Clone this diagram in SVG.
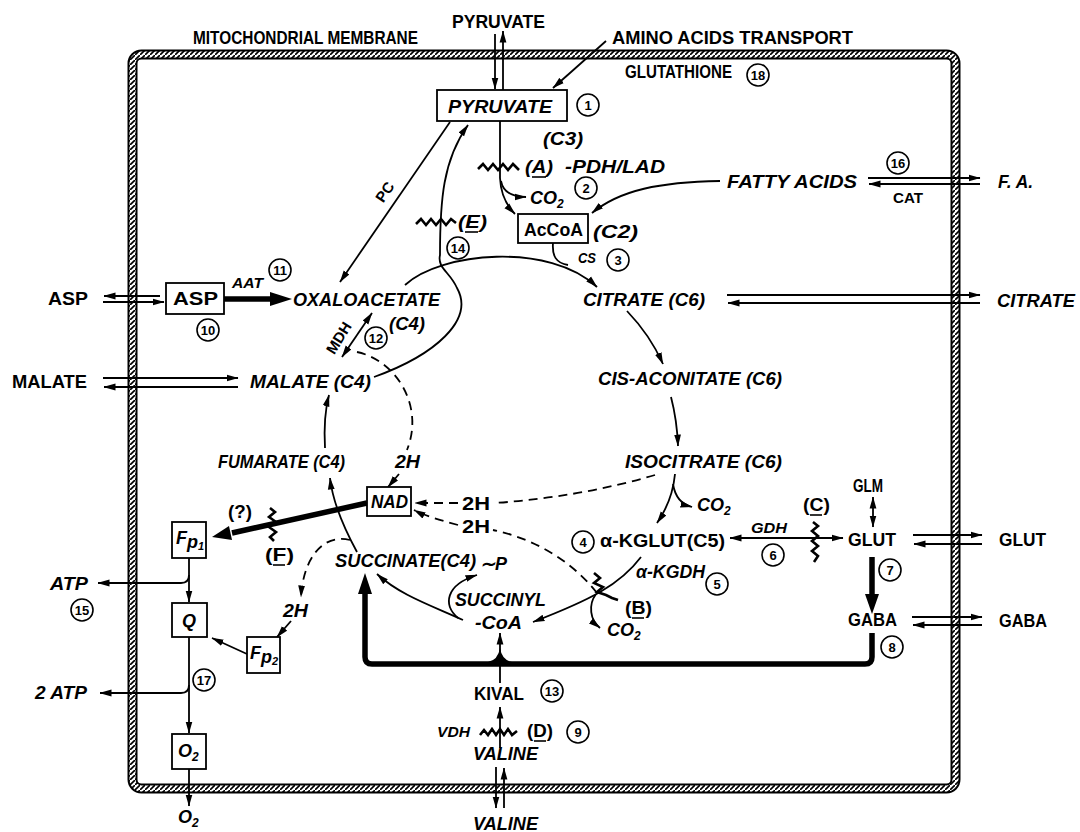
<svg xmlns="http://www.w3.org/2000/svg" width="1080" height="832" viewBox="0 0 1080 832">
<defs>
<style>
text{font-family:"Liberation Sans",Arial,sans-serif;font-size:18px;font-weight:bold;fill:#000}
.i{font-style:italic}
.sm{font-size:15px}
.ln{fill:none;stroke:#000;stroke-width:1.8}
.th{fill:none;stroke:#000;stroke-width:5.5}
.ds{stroke-dasharray:9 6}
.zz{fill:none;stroke:#000;stroke-width:2.6;stroke-linejoin:miter}
.box{fill:#fff;stroke:#000;stroke-width:1.8}
.num circle{fill:#fff;stroke:#000;stroke-width:1.6}
.num text{font-size:13px;text-anchor:middle}
.ul{stroke:#000;stroke-width:1.6}
</style>
<pattern id="hatch" patternUnits="userSpaceOnUse" width="5" height="5">
<rect width="5" height="5" fill="#fff"/>
<path d="M-1,6 L6,-1" stroke="#000" stroke-width="1.6"/>
</pattern>
<marker id="ah" viewBox="0 0 12 8" refX="11.5" refY="4" markerWidth="12" markerHeight="8" markerUnits="userSpaceOnUse" orient="auto-start-reverse"><path d="M0,0.6 L12,4 L0,7.4 z"/></marker>
</defs>
<rect width="1080" height="832" fill="#fff"/>

<g id="membrane">
<rect x="132.5" y="54.5" width="823" height="734" rx="9" fill="none" stroke="#000" stroke-width="10"/>
<rect x="132.5" y="54.5" width="823" height="734" rx="9" fill="none" stroke="url(#hatch)" stroke-width="6"/>
</g>

<g id="connectors">
<path class="ln" d="M495,34 L495,89" marker-end="url(#ah)"/>
<path class="ln" d="M503,90 L503,31" marker-end="url(#ah)"/>
<path class="ln" d="M606,41 L553,88" marker-end="url(#ah)"/>
<path class="ln" d="M500,121 L500,178 Q501,200 515,214" marker-end="url(#ah)"/>
<path class="ln" d="M501,181 Q504,197 526,197" marker-end="url(#ah)"/>
<path class="zz" d="M478,169 L483,164 L488,170 L493,164 L498,170 L503,164 L508,170 L513,164 L519,170"/>
<path class="ln" d="M720,181 C660,182 620,190 592,213" marker-end="url(#ah)"/>
<path class="ln" d="M868,178 L980,178" marker-end="url(#ah)"/>
<path class="ln" d="M980,184 L869,184" marker-end="url(#ah)"/>
<path class="ln" d="M553,243 C552,256 556,263 568,265"/>
<path class="ln" d="M405,285 C440,252 550,242 597,287" marker-end="url(#ah)"/>
<path class="ln" d="M727,295 L980,295" marker-end="url(#ah)"/>
<path class="ln" d="M980,303 L728,303" marker-end="url(#ah)"/>
<path class="ln" d="M160,296 L104,296" marker-end="url(#ah)"/>
<path class="ln" d="M103,302 L164,302" marker-end="url(#ah)"/>
<path class="th" d="M224,299 L272,299"/>
<path d="M270,292 L292,299 L270,306 z"/>
<path class="ln" d="M450,122 L340,282" marker-end="url(#ah)"/>
<path class="ln" d="M103,378 L238,378" marker-end="url(#ah)"/>
<path class="ln" d="M238,387 L104,387" marker-end="url(#ah)"/>
<path class="ln" d="M342,357 L372,313" marker-start="url(#ah)" marker-end="url(#ah)"/>
<path class="ln" d="M374,377 C435,355 475,320 457,288 C450,272 437,268 440,255 C440,200 443,160 468,125" marker-end="url(#ah)"/>
<path class="zz" d="M416,224 L421,219 L426,225 L431,219 L436,225 L441,219 L446,225 L451,219 L456,223"/>
<path class="ln" d="M627,311 Q650,335 663,364" marker-end="url(#ah)"/>
<path class="ln" d="M671,397 Q677,420 678,446" marker-end="url(#ah)"/>
<path class="ln" d="M675,474 C673,495 666,510 657,523" marker-end="url(#ah)"/>
<path class="ln" d="M673,484 Q676,503 692,507" marker-end="url(#ah)"/>
<path class="ln ds" d="M655,475 Q580,497 495,503"/>
<path class="ln ds" d="M458,503 L415,503" marker-end="url(#ah)"/>
<path class="ln ds" d="M597,593 C575,565 540,540 493,530"/>
<path class="ln ds" d="M458,525 C440,520 425,516 414,510" marker-end="url(#ah)"/>
<path class="ln ds" d="M357,352 C395,360 425,405 407,450"/>
<path class="ln" d="M399,474 L388,487" marker-end="url(#ah)"/>
<path class="th" d="M367,503 L232,533"/>
<path d="M229,526 L212,537 L232,540 z"/>
<path class="zz" d="M270,508 L275,512 L269,517 L276,522 L269,527 L276,532 L270,537 L274,541"/>
<path class="ln" d="M357,552 C345,530 333,505 330,478" marker-end="url(#ah)"/>
<path class="ln" d="M325,448 C324,430 325,410 329,395" marker-end="url(#ah)"/>
<path class="ln ds" d="M350,540 C322,533 303,560 301,597" marker-end="url(#ah)"/>
<path class="ln" d="M291,621 L277,637" marker-end="url(#ah)"/>
<path class="ln" d="M247,654 L212,638" marker-end="url(#ah)"/>
<path class="ln" d="M189,558 L189,602" marker-end="url(#ah)"/>
<path class="ln" d="M189,575 Q189,583 181,583 L98,583" marker-end="url(#ah)"/>
<path class="ln" d="M189,637 L189,733" marker-end="url(#ah)"/>
<path class="ln" d="M189,685 Q189,693 181,693 L100,693" marker-end="url(#ah)"/>
<path class="ln" d="M189,769 L189,806" marker-end="url(#ah)"/>
<path class="ln" d="M463,620 C430,605 400,595 377,574" marker-end="url(#ah)"/>
<path class="ln" d="M458,618 C443,605 445,585 477,575" marker-end="url(#ah)"/>
<path class="ln" d="M641,557 C620,585 590,600 533,622" marker-end="url(#ah)"/>
<path class="zz" d="M594,573 L600,578 L594,583 L603,587 L597,592 L606,595 L612,598 L618,600"/>
<path class="ln" d="M596,594 C588,605 590,620 600,628" marker-end="url(#ah)"/>
<path class="ln" d="M730,538 L843,538" marker-start="url(#ah)" marker-end="url(#ah)"/>
<path class="zz" d="M813,522 L818,526 L812,531 L818,536 L812,541 L818,546 L812,551 L818,556 L814,562"/>
<path class="ln" d="M873,497 L873,527" marker-start="url(#ah)" marker-end="url(#ah)"/>
<path class="ln" d="M913,535 L982,535" marker-end="url(#ah)"/>
<path class="ln" d="M982,544 L914,544" marker-end="url(#ah)"/>
<path class="th" d="M872,557 L872,596"/>
<path d="M865,594 L872,614 L879,594 z"/>
<path class="ln" d="M912,617 L982,617" marker-end="url(#ah)"/>
<path class="ln" d="M982,625 L913,625" marker-end="url(#ah)"/>
<path class="th" d="M872,633 L872,657 Q872,664 865,664 L372,664 Q365,664 365,657 L365,592"/>
<path d="M358,594 L365,573 L372,594 z"/>
<path class="ln" d="M500,683 L500,633" marker-end="url(#ah)"/>
<path d="M488,662 Q498,660 500,648 Q502,660 512,662 Z"/>
<path class="ln" d="M500,748 L500,707" marker-end="url(#ah)"/>
<path class="zz" d="M480,735 L484,730 L488,735 L492,729 L496,735 L500,729 L504,735 L508,729 L512,735 L517,731"/>
<path class="ln" d="M496,767 L496,808" marker-end="url(#ah)"/>
<path class="ln" d="M504,808 L504,768" marker-end="url(#ah)"/>
</g>

<g id="label-membrane"><text x="193" y="44" font-size="15" textLength="225" lengthAdjust="spacingAndGlyphs">MITOCHONDRIAL MEMBRANE</text></g>
<g id="pyruvate-out"><text x="452" y="28" textLength="93" lengthAdjust="spacingAndGlyphs">PYRUVATE</text></g>
<g id="amino-acids"><text x="612" y="44" textLength="241" lengthAdjust="spacingAndGlyphs">AMINO ACIDS TRANSPORT</text></g>
<g id="glutathione"><text x="625" y="78" font-size="15" textLength="107" lengthAdjust="spacingAndGlyphs">GLUTATHIONE</text></g>
<g id="n18" class="num"><circle cx="758" cy="75" r="11"/><text x="758" y="80">18</text></g>

<g id="pyruvate"><rect class="box" x="437" y="90" width="130" height="31"/><text class="i" x="448" y="113" textLength="104" lengthAdjust="spacingAndGlyphs">PYRUVATE</text></g>
<g id="n1" class="num"><circle cx="588" cy="105" r="11"/><text x="588" y="110">1</text></g>
<g id="c3"><text class="i" x="543" y="145" textLength="40" lengthAdjust="spacingAndGlyphs">(C3)</text></g>
<g id="lbl-A"><text class="i" x="525" y="173" textLength="28" lengthAdjust="spacingAndGlyphs">(A)</text><line class="ul" x1="532" y1="177" x2="546" y2="177"/></g>
<g id="pdh"><text class="i" x="565" y="173" textLength="100" lengthAdjust="spacingAndGlyphs">-PDH/LAD</text></g>
<g id="co2-a"><text class="i" x="530" y="204" font-size="16">CO<tspan font-size="12" dy="4">2</tspan></text></g>
<g id="n2" class="num"><circle cx="586" cy="188" r="11"/><text x="586" y="193">2</text></g>
<g id="accoa"><rect class="box" x="518" y="214" width="70" height="29"/><text x="524" y="236" textLength="59" lengthAdjust="spacingAndGlyphs">AcCoA</text></g>
<g id="c2"><text class="i" x="593" y="238" textLength="45" lengthAdjust="spacingAndGlyphs">(C2)</text></g>
<g id="fatty-acids"><text class="i" x="727" y="188" textLength="130" lengthAdjust="spacingAndGlyphs">FATTY ACIDS</text></g>
<g id="fa-out"><text class="i" x="998" y="188" textLength="35" lengthAdjust="spacingAndGlyphs">F. A.</text></g>
<g id="n16" class="num"><circle cx="898" cy="163" r="11"/><text x="898" y="168">16</text></g>
<g id="cat"><text class="sm" x="893" y="203" textLength="30" lengthAdjust="spacingAndGlyphs">CAT</text></g>
<g id="cs"><text class="i sm" x="578" y="263" textLength="18" lengthAdjust="spacingAndGlyphs">CS</text></g>
<g id="n3" class="num"><circle cx="618" cy="260" r="11"/><text x="618" y="265">3</text></g>
<g id="citrate"><text class="i" x="583" y="306" textLength="122" lengthAdjust="spacingAndGlyphs">CITRATE (C6)</text></g>
<g id="citrate-out"><text class="i" x="997" y="307" textLength="78" lengthAdjust="spacingAndGlyphs">CITRATE</text></g>

<g id="asp-out"><text x="48" y="305" textLength="40" lengthAdjust="spacingAndGlyphs">ASP</text></g>
<g id="asp"><rect class="box" x="166" y="283" width="58" height="31"/><text x="173" y="305" textLength="45" lengthAdjust="spacingAndGlyphs">ASP</text></g>
<g id="aat"><text class="i sm" x="232" y="288" textLength="31" lengthAdjust="spacingAndGlyphs">AAT</text></g>
<g id="n11" class="num"><circle cx="280" cy="270" r="11"/><text x="280" y="275">11</text></g>
<g id="n10" class="num"><circle cx="208" cy="330" r="11"/><text x="208" y="335">10</text></g>
<g id="oxaloacetate"><text class="i" x="293" y="306" textLength="147" lengthAdjust="spacingAndGlyphs">OXALOACETATE</text></g>
<g id="c4-oaa"><text class="i" x="389" y="330" textLength="36" lengthAdjust="spacingAndGlyphs">(C4)</text></g>
<g id="n12" class="num"><circle cx="376" cy="338" r="11"/><text x="376" y="343">12</text></g>
<g id="mdh"><text class="sm" x="339" y="343" text-anchor="middle" transform="rotate(-58 339 338)">MDH</text></g>
<g id="pc"><text class="sm" x="385" y="197" text-anchor="middle" transform="rotate(-56 385 192)">PC</text></g>
<g id="lbl-E"><text class="i" x="458" y="228" textLength="29" lengthAdjust="spacingAndGlyphs">(E)</text><line class="ul" x1="465" y1="232" x2="478" y2="232"/></g>
<g id="n14" class="num"><circle cx="458" cy="248" r="11"/><text x="458" y="253">14</text></g>

<g id="malate-out"><text x="12" y="388" textLength="75" lengthAdjust="spacingAndGlyphs">MALATE</text></g>
<g id="malate"><text class="i" x="250" y="388" textLength="121" lengthAdjust="spacingAndGlyphs">MALATE (C4)</text></g>
<g id="cis-aconitate"><text class="i" x="598" y="385" textLength="184" lengthAdjust="spacingAndGlyphs">CIS-ACONITATE (C6)</text></g>
<g id="isocitrate"><text class="i" x="625" y="468" textLength="157" lengthAdjust="spacingAndGlyphs">ISOCITRATE (C6)</text></g>
<g id="co2-iso"><text class="i" x="697" y="511" font-size="16">CO<tspan font-size="12" dy="4">2</tspan></text></g>
<g id="fumarate"><text class="i" x="218" y="468" textLength="127" lengthAdjust="spacingAndGlyphs">FUMARATE (C4)</text></g>
<g id="h2-a"><text class="i" x="395" y="468" textLength="25" lengthAdjust="spacingAndGlyphs">2H</text></g>
<g id="nad"><rect class="box" x="367" y="487" width="44" height="29"/><text class="i" x="371" y="508" textLength="37" lengthAdjust="spacingAndGlyphs">NAD</text></g>
<g id="h2-b"><text x="462" y="510" textLength="28" lengthAdjust="spacingAndGlyphs">2H</text></g>
<g id="h2-c"><text x="462" y="533" textLength="28" lengthAdjust="spacingAndGlyphs">2H</text></g>
<g id="q-mark"><text x="228" y="518" textLength="24" lengthAdjust="spacingAndGlyphs">(?)</text></g>
<g id="lbl-F"><text x="265" y="561" textLength="29" lengthAdjust="spacingAndGlyphs">(F)</text><line class="ul" x1="273" y1="565" x2="285" y2="565"/></g>
<g id="fp1"><rect class="box" x="172" y="522" width="34" height="36"/><text class="i" x="176" y="544">F<tspan dy="4">p</tspan><tspan font-size="11" dy="2">1</tspan></text></g>
<g id="atp"><text class="i" x="50" y="590" textLength="38" lengthAdjust="spacingAndGlyphs">ATP</text></g>
<g id="n15" class="num"><circle cx="82" cy="610" r="11"/><text x="82" y="615">15</text></g>
<g id="q"><rect class="box" x="172" y="603" width="35" height="34"/><text class="i" x="189" y="627" text-anchor="middle">Q</text></g>
<g id="fp2"><rect class="box" x="247" y="637" width="33" height="36"/><text class="i" x="250" y="659">F<tspan dy="4">p</tspan><tspan font-size="11" dy="2">2</tspan></text></g>
<g id="h2-d"><text class="i" x="283" y="617" textLength="25" lengthAdjust="spacingAndGlyphs">2H</text></g>
<g id="atp2"><text class="i" x="35" y="699" textLength="52" lengthAdjust="spacingAndGlyphs">2 ATP</text></g>
<g id="n17" class="num"><circle cx="204" cy="680" r="11"/><text x="204" y="685">17</text></g>
<g id="o2"><rect class="box" x="172" y="734" width="34" height="35"/><text class="i" x="178" y="757">O<tspan font-size="12" dy="4">2</tspan></text></g>
<g id="o2-out"><text class="i" x="178" y="823">O<tspan font-size="12" dy="4">2</tspan></text></g>

<g id="succinate"><text class="i" x="335" y="567" textLength="141" lengthAdjust="spacingAndGlyphs">SUCCINATE(C4)</text><text class="i" x="480" y="570">∼P</text></g>
<g id="succinyl-coa"><text class="i" x="455" y="606" textLength="91" lengthAdjust="spacingAndGlyphs">SUCCINYL</text><text class="i" x="475" y="629" textLength="47" lengthAdjust="spacingAndGlyphs">-CoA</text></g>
<g id="co2-b"><text class="i" x="607" y="636" font-size="16">CO<tspan font-size="12" dy="4">2</tspan></text></g>
<g id="lbl-B"><text x="625" y="614" textLength="27" lengthAdjust="spacingAndGlyphs">(B)</text><line class="ul" x1="632" y1="618" x2="644" y2="618"/></g>
<g id="akgdh"><text class="i" x="636" y="578" textLength="69" lengthAdjust="spacingAndGlyphs">α-KGDH</text></g>
<g id="n5" class="num"><circle cx="717" cy="584" r="11"/><text x="717" y="589">5</text></g>
<g id="n4" class="num"><circle cx="583" cy="542" r="11"/><text x="583" y="547">4</text></g>
<g id="akglut"><text x="600" y="547" textLength="125" lengthAdjust="spacingAndGlyphs">α-KGLUT(C5)</text></g>
<g id="gdh"><text class="i sm" x="751" y="533" textLength="36" lengthAdjust="spacingAndGlyphs">GDH</text></g>
<g id="n6" class="num"><circle cx="773" cy="555" r="11"/><text x="773" y="560">6</text></g>
<g id="lbl-C"><text x="803" y="511" textLength="27" lengthAdjust="spacingAndGlyphs">(C)</text><line class="ul" x1="810" y1="515" x2="822" y2="515"/></g>
<g id="glm"><text x="853" y="492" textLength="30" lengthAdjust="spacingAndGlyphs">GLM</text></g>
<g id="glut"><text x="848" y="546" textLength="48" lengthAdjust="spacingAndGlyphs">GLUT</text></g>
<g id="glut-out"><text x="999" y="546" textLength="47" lengthAdjust="spacingAndGlyphs">GLUT</text></g>
<g id="n7" class="num"><circle cx="890" cy="570" r="11"/><text x="890" y="575">7</text></g>
<g id="gaba"><text x="848" y="626" textLength="49" lengthAdjust="spacingAndGlyphs">GABA</text></g>
<g id="gaba-out"><text x="999" y="627" textLength="48" lengthAdjust="spacingAndGlyphs">GABA</text></g>
<g id="n8" class="num"><circle cx="892" cy="647" r="11"/><text x="892" y="652">8</text></g>
<g id="kival"><text x="474" y="700" textLength="50" lengthAdjust="spacingAndGlyphs">KIVAL</text></g>
<g id="n13" class="num"><circle cx="552" cy="691" r="11"/><text x="552" y="696">13</text></g>
<g id="vdh"><text class="i sm" x="437" y="737" textLength="33" lengthAdjust="spacingAndGlyphs">VDH</text></g>
<g id="lbl-D"><text x="527" y="737" textLength="26" lengthAdjust="spacingAndGlyphs">(D)</text><line class="ul" x1="534" y1="741" x2="546" y2="741"/></g>
<g id="n9" class="num"><circle cx="578" cy="732" r="11"/><text x="578" y="737">9</text></g>
<g id="valine"><text class="i" x="473" y="760" textLength="65" lengthAdjust="spacingAndGlyphs">VALINE</text></g>
<g id="valine-out"><text class="i" x="473" y="830" textLength="65" lengthAdjust="spacingAndGlyphs">VALINE</text></g>
</svg>
